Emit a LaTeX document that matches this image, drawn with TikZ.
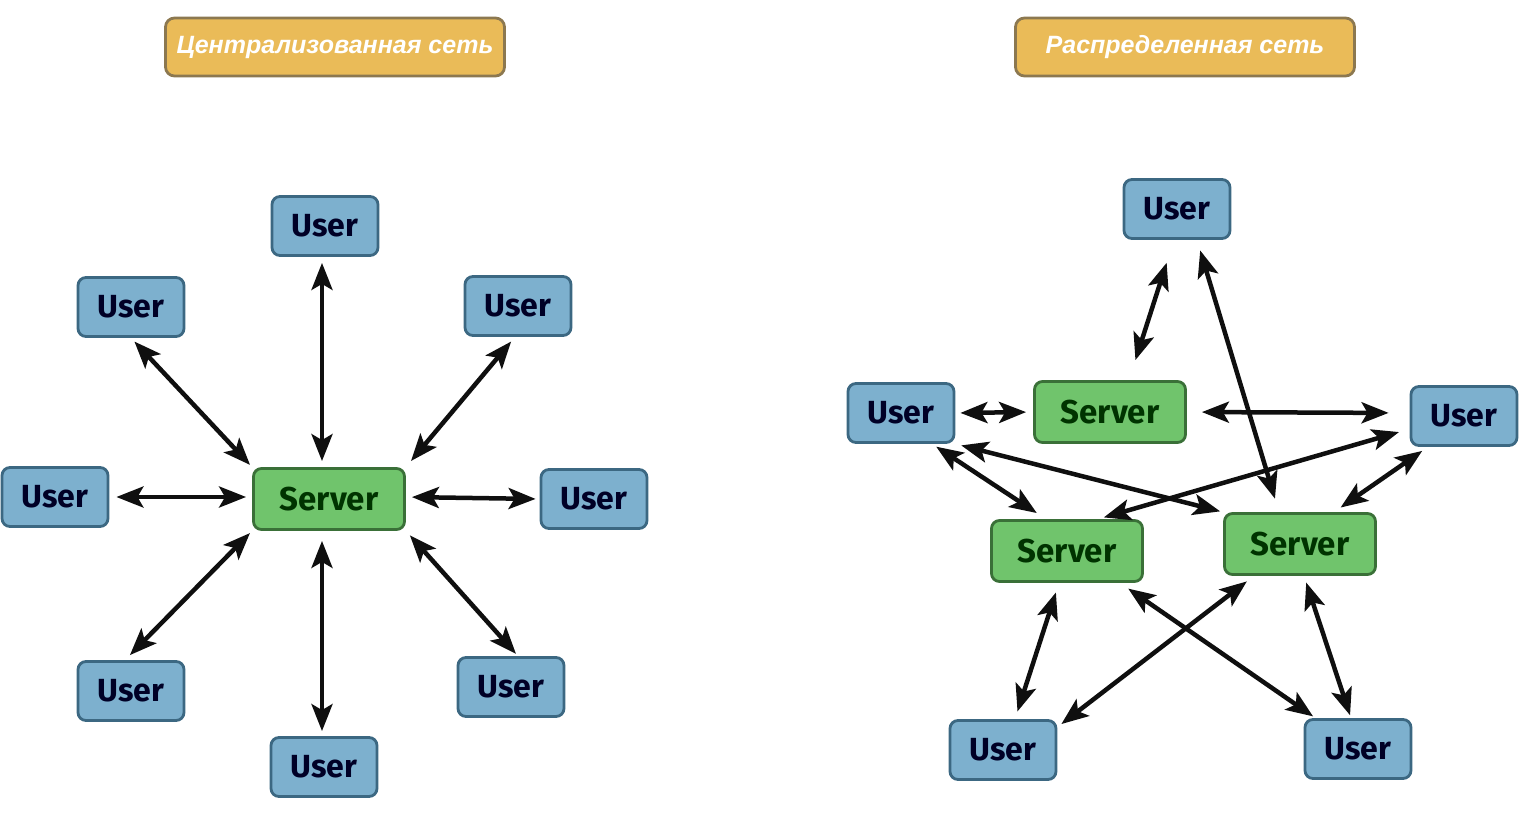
\documentclass[tikz,border=0pt]{standalone}
\usepackage{fontspec}
\setmainfont{Liberation Sans}
\newfontfamily\boxfont{Fira Sans}
\usetikzlibrary{arrows.meta,calc}
\definecolor{userfill}{RGB}{125,176,206}
\definecolor{userdraw}{RGB}{60,104,130}
\definecolor{servfill}{RGB}{112,196,108}
\definecolor{servdraw}{RGB}{58,112,56}
\definecolor{titlefill}{RGB}{234,187,88}
\definecolor{titledraw}{RGB}{140,120,80}
\definecolor{linkcol}{RGB}{15,15,15}
\tikzset{
  userbox/.style={draw=userdraw, fill=userfill, line width=2.8pt, rounded corners=8pt,
    minimum width=106pt, minimum height=59pt, inner sep=0pt,
    font=\boxfont\bfseries\fontsize{32}{33}\selectfont, text=black!85!blue},
  servbox/.style={draw=servdraw, fill=servfill, line width=2.8pt, rounded corners=8pt,
    minimum width=151pt, minimum height=61pt, inner sep=0pt,
    font=\boxfont\bfseries\fontsize{33}{34}\selectfont, text=black!80!green},
  titlebox/.style={draw=titledraw, fill=titlefill, line width=2.8pt, rounded corners=9pt,
    minimum width=339pt, minimum height=58pt, inner sep=0pt,
    font=\bfseries\itshape\fontsize{25}{27}\selectfont, text=white},
  tip/.tip={Stealth[length=27pt,width=21pt,inset=6pt]},
  link/.style={draw=linkcol, line width=4.5pt, tip-tip}
}
\begin{document}
\begin{tikzpicture}[x=1pt,y=-1pt]
\useasboundingbox (0,0) rectangle (1534,816);
% ---------- left: centralized ----------
\node[titlebox] (t1) at (335,47) {Централизованная сеть};
\node[servbox] (s) at (329,499) {Server};
\node[userbox] (uN) at (325,226) {User};
\node[userbox] (uNW) at (131,307) {User};
\node[userbox] (uNE) at (518,306) {User};
\node[userbox] (uW) at (55,497) {User};
\node[userbox] (uE) at (594,499) {User};
\node[userbox] (uSW) at (131,691) {User};
\node[userbox] (uSE) at (511,687) {User};
\node[userbox] (uS) at (324,767) {User};

\draw[link, shorten <=6pt, shorten >=6pt] ($(uN.south)+(-3,0)$) -- ($(s.north)+(-7,0)$);
\draw[link, shorten <=5pt, shorten >=3pt] (uNW.south) -- (s.north west);
\draw[link, shorten <=6pt, shorten >=8pt] ($(uNE.south)+(-3,0)$) -- (s.north east);
\draw[link, shorten <=7pt, shorten >=6pt] (uW.east) -- ($(s.west)+(0,-2)$);
\draw[link, shorten <=6pt, shorten >=4pt] ($(s.east)+(0,-2)$) -- (uE.west);
\draw[link, shorten <=3pt, shorten >=7pt] (s.south west) -- ($(uSW.north)+(-6,0)$);
\draw[link, shorten <=6pt, shorten >=3pt] (s.south east) -- ($(uSE.north)+(7,0)$);
\draw[link, shorten <=10pt, shorten >=5pt] ($(s.south)+(-7,0)$) -- ($(uS.north)+(-2,0)$);

% ---------- right: distributed ----------
\node[titlebox] (t2) at (1185,47) {Распределенная сеть};
\node[userbox] (rT) at (1177,209) {User};
\node[userbox] (rL) at (901,413) {User};
\node[servbox] (sT) at (1110,412) {Server};
\node[userbox] (rR) at (1464,416) {User};
\node[servbox] (sL) at (1067,551) {Server};
\node[servbox] (sR) at (1300,544) {Server};
\node[userbox] (rBL) at (1003,750) {User};
\node[userbox] (rBR) at (1358,749) {User};

\draw[link, shorten <=24pt, shorten >=21pt] ($(rT.south)+(-3,0)$) -- ($(sT.north)+(19,0)$);
\draw[link, shorten <=11pt, shorten >=14pt] ($(rT.south)+(20,0)$) -- ($(sR.north)+(-21,0)$);
\draw[link, shorten <=5pt, shorten >=7pt] (rL.east) -- (sT.west);
\draw[link, shorten <=15pt, shorten >=21pt] (sT.east) -- ($(rR.west)+(0,-3)$);
\draw[link, shorten <=5pt, shorten >=11pt] ($(rL.south)+(31,0)$) -- ($(sL.north)+(-21,0)$);
\draw[link, shorten <=6pt, shorten >=3pt] (rL.south east) -- (sR.north west);
\draw[link, shorten <=11pt, shorten >=6pt] ($(rR.west)+(0,13)$) -- ($(sL.north)+(31,0)$);
\draw[link, shorten <=7pt, shorten >=8pt] ($(rR.south)+(-36,0)$) -- ($(sR.north)+(34,0)$);
\draw[link, shorten <=10pt, shorten >=8pt] ($(sL.south)+(-8,0)$) -- ($(rBL.north)+(12,0)$);
\draw[link, shorten <=10pt, shorten >=3pt] ($(sL.south)+(53,0)$) -- ($(rBR.north west)+(12,0)$);
\draw[link, shorten <=9pt, shorten >=5pt] ($(sR.south)+(-46,0)$) -- ($(rBL.north east)+(0,8)$);
\draw[link, shorten <=7pt, shorten >=3pt] ($(sR.south)+(4,0)$) -- ($(rBR.north)+(-7,0)$);
\end{tikzpicture}
\end{document}
